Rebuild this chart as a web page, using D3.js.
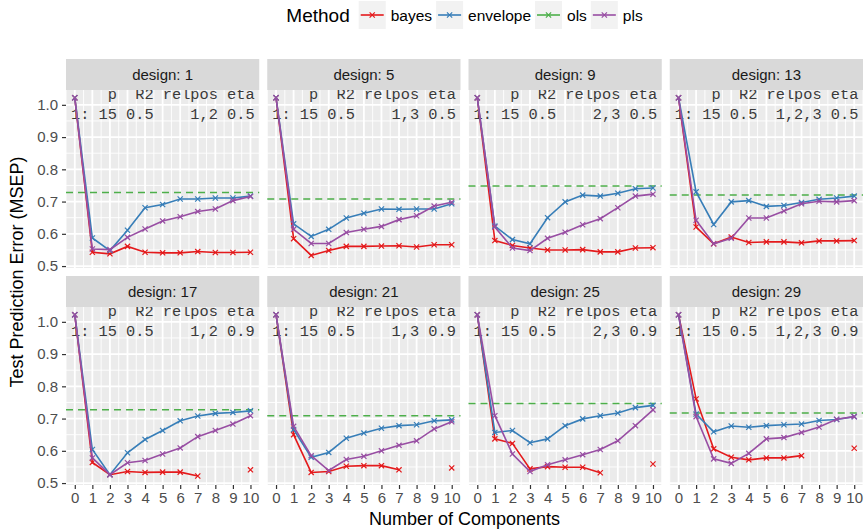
<!DOCTYPE html>
<html>
<head>
<meta charset="utf-8">
<script src="https://d3js.org/d3.v7.min.js"></script>
<style>
body { margin: 0; background: #fff; }
text { font-family: "Liberation Sans", Arial, Helvetica, sans-serif; }
</style>
</head>
<body>
<svg id="chart" width="864" height="530"></svg>
<script>
// design facets and their settings
const designs = [1, 5, 9, 13, 17, 21, 25, 29];
const relpos  = ["1,2", "1,3", "2,3", "1,2,3", "1,2", "1,3", "2,3", "1,2,3"];
const eta     = ["0.5", "0.5", "0.5", "0.5", "0.9", "0.9", "0.9", "0.9"];
const pVal = "15", r2Val = "0.5";

const components = [0, 1, 2, 3, 4, 5, 6, 7, 8, 9, 10];
const methods = ["bayes", "envelope", "ols", "pls"];
const colors  = ["#E41A1C", "#377EB8", "#4DAF4A", "#984EA3"];

// ols is a flat reference line per design
const ols = [0.728, 0.708, 0.748, 0.720, 0.727, 0.709, 0.747, 0.717];

// MSEP by number of components (null = not computed)
const bayes = [
  [1.022, 0.543, 0.538, 0.561, 0.543, 0.541, 0.541, 0.545, 0.542, 0.542, 0.543],
  [1.022, 0.585, 0.533, 0.548, 0.561, 0.561, 0.562, 0.563, 0.559, 0.566, 0.566],
  [1.022, 0.579, 0.564, 0.556, 0.550, 0.550, 0.551, 0.544, 0.544, 0.556, 0.557],
  [1.022, 0.621, 0.569, 0.590, 0.573, 0.575, 0.575, 0.572, 0.578, 0.578, 0.579],
  [1.022, 0.564, 0.526, 0.536, 0.533, 0.534, 0.534, 0.522, null, null, 0.541],
  [1.022, 0.650, 0.533, 0.536, 0.552, 0.554, 0.554, 0.541, null, null, 0.547],
  [1.022, 0.637, 0.623, 0.544, 0.551, 0.549, 0.549, 0.532, null, null, 0.559],
  [1.022, 0.761, 0.606, 0.580, 0.572, 0.578, 0.578, 0.585, null, null, 0.608]
];
const envelope = [
  [1.022, 0.587, 0.548, 0.611, 0.681, 0.691, 0.708, 0.708, 0.711, 0.711, 0.717],
  [1.022, 0.631, 0.592, 0.614, 0.649, 0.664, 0.677, 0.676, 0.677, 0.677, 0.693],
  [1.022, 0.624, 0.582, 0.569, 0.650, 0.699, 0.720, 0.717, 0.726, 0.740, 0.742],
  [1.022, 0.730, 0.629, 0.699, 0.703, 0.685, 0.688, 0.697, 0.707, 0.711, 0.717],
  [1.022, 0.604, 0.526, 0.594, 0.635, 0.663, 0.693, 0.708, 0.716, 0.719, 0.724],
  [1.022, 0.666, 0.580, 0.595, 0.639, 0.655, 0.670, 0.678, 0.681, 0.693, 0.696],
  [1.022, 0.657, 0.663, 0.625, 0.637, 0.678, 0.699, 0.709, 0.717, 0.734, 0.741],
  [1.022, 0.714, 0.659, 0.677, 0.673, 0.678, 0.681, 0.683, 0.694, 0.697, 0.706]
];
const pls = [
  [1.022, 0.553, 0.551, 0.589, 0.615, 0.640, 0.653, 0.669, 0.677, 0.703, 0.716],
  [1.022, 0.614, 0.570, 0.570, 0.604, 0.614, 0.623, 0.644, 0.656, 0.686, 0.698],
  [1.022, 0.621, 0.556, 0.548, 0.586, 0.605, 0.628, 0.647, 0.681, 0.717, 0.723],
  [1.022, 0.642, 0.569, 0.586, 0.649, 0.649, 0.671, 0.693, 0.701, 0.699, 0.703],
  [1.022, 0.578, 0.526, 0.563, 0.570, 0.590, 0.609, 0.644, 0.663, 0.683, 0.709],
  [1.022, 0.676, 0.585, 0.539, 0.573, 0.583, 0.600, 0.617, 0.631, 0.668, 0.690],
  [1.022, 0.709, 0.590, 0.536, 0.557, 0.572, 0.588, 0.604, 0.631, 0.678, 0.727],
  [1.022, 0.706, 0.575, 0.561, 0.592, 0.637, 0.641, 0.657, 0.674, 0.698, 0.706]
];
const yTicks = [0.5, 0.6, 0.7, 0.8, 0.9, 1.0];

const svg = d3.select("#chart");

// layout
const left = 66, right = 863, gap = 8;
const pw = (right - left - 3 * gap) / 4;
const stripTop = 59, stripH = 31, ph = 178, rowGap = 8;

const x = d3.scaleLinear().domain([-0.5, 10.5]).range([0, pw]);
const y = d3.scaleLinear().domain([0.494, 1.046]).range([ph, 0]);

const line = d3.line()
  .defined(d => d != null)
  .x((d, i) => x(components[i]))
  .y(d => y(d));

const cross = (g, cx, cy, col) => {
  const s = 2.6;
  g.append("path")
    .attr("d", `M${cx - s},${cy - s}L${cx + s},${cy + s}M${cx - s},${cy + s}L${cx + s},${cy - s}`)
    .attr("stroke", col).attr("stroke-width", 1.2).attr("fill", "none");
};

designs.forEach((des, i) => {
  const col = i % 4, row = Math.floor(i / 4);
  const px = left + col * (pw + gap);
  const sy = stripTop + row * (stripH + ph + rowGap);
  const py = sy + stripH;

  // strip
  svg.append("rect").attr("x", px).attr("y", sy).attr("width", pw).attr("height", stripH)
    .attr("fill", "#D9D9D9");
  svg.append("text").attr("x", px + pw / 2).attr("y", sy + stripH / 2 + 5.5)
    .attr("text-anchor", "middle").attr("fill", "#1A1A1A").style("font-size", "15px")
    .text("design: " + des);

  const g = svg.append("g").attr("transform", `translate(${px},${py})`);
  g.append("clipPath").attr("id", "clip" + i)
    .append("rect").attr("width", pw).attr("height", ph);
  g.append("rect").attr("width", pw).attr("height", ph).attr("fill", "#EBEBEB");

  // grid
  const minorY = d3.range(0.45, 1.06, 0.1);
  g.selectAll(".mny").data(minorY).join("line")
    .attr("x1", 0).attr("x2", pw).attr("y1", d => y(d)).attr("y2", d => y(d))
    .attr("stroke", "#fff").attr("stroke-width", 0.9).attr("clip-path", `url(#clip${i})`);
  g.selectAll(".mnx").data(d3.range(-0.5, 11, 1)).join("line")
    .attr("y1", 0).attr("y2", ph).attr("x1", d => x(d)).attr("x2", d => x(d))
    .attr("stroke", "#fff").attr("stroke-width", 0.9);
  g.selectAll(".mjy").data(yTicks).join("line")
    .attr("x1", 0).attr("x2", pw).attr("y1", d => y(d)).attr("y2", d => y(d))
    .attr("stroke", "#fff").attr("stroke-width", 1.8);
  g.selectAll(".mjx").data(components).join("line")
    .attr("y1", 0).attr("y2", ph).attr("x1", d => x(d)).attr("x2", d => x(d))
    .attr("stroke", "#fff").attr("stroke-width", 1.8);

  // design table text
  const tg = g.append("g").attr("clip-path", `url(#clip${i})`);
  const relCol = relpos[i].padStart(6, " ");
  const lines = [
    "    p  R2 relpos eta",
    "1: " + pVal + " " + r2Val + " " + relCol + " " + eta[i]
  ];
  tg.selectAll("text").data(lines).join("text")
    .attr("x", 5).attr("y", (d, k) => 8.5 + k * 20.5)
    .style("font-family", "'Courier New', 'Liberation Mono', monospace")
    .style("font-size", "15.3px").style("white-space", "pre")
    .attr("fill", "#3a3a3a")
    .text(d => d);

  // ols reference
  g.append("line").attr("x1", 0).attr("x2", pw)
    .attr("y1", y(ols[i])).attr("y2", y(ols[i]))
    .attr("stroke", colors[2]).attr("stroke-width", 1.5).attr("stroke-dasharray", "7,5");

  // method lines
  [[bayes[i], colors[0]], [envelope[i], colors[1]], [pls[i], colors[3]]].forEach(([vals, c]) => {
    g.append("path").datum(vals).attr("d", line)
      .attr("fill", "none").attr("stroke", c).attr("stroke-width", 1.6);
    vals.forEach((v, k) => { if (v != null) cross(g, x(components[k]), y(v), c); });
  });

  // y axis on the first column
  if (col === 0) {
    const ax = svg.append("g").attr("transform", `translate(${px},${py})`)
      .call(d3.axisLeft(y).tickValues(yTicks).tickFormat(d3.format(".1f")).tickSize(4).tickPadding(4));
    ax.select(".domain").remove();
    ax.selectAll("line").attr("stroke", "#333").attr("stroke-width", 1.2);
    ax.selectAll("text").attr("fill", "#4D4D4D").style("font-size", "15px")
      .style("font-family", "'Liberation Sans', Arial, sans-serif");
  }
  // x axis on the bottom row
  if (row === 1) {
    const ax = svg.append("g").attr("transform", `translate(${px},${py + ph})`)
      .call(d3.axisBottom(x).tickValues(components).tickFormat(d3.format("d")).tickSize(4).tickPadding(3));
    ax.select(".domain").remove();
    ax.selectAll("line").attr("stroke", "#333").attr("stroke-width", 1.2);
    ax.selectAll("text").attr("fill", "#4D4D4D").style("font-size", "15px")
      .style("font-family", "'Liberation Sans', Arial, sans-serif");
  }
});

// axis titles
const midX = (left + right) / 2;
svg.append("text").attr("x", midX).attr("y", 525).attr("text-anchor", "middle")
  .style("font-size", "18px").attr("fill", "#000").text("Number of Components");
const midY = (stripTop + stripTop + 2 * (stripH + ph) + rowGap) / 2;
svg.append("text").attr("transform", `translate(23,${midY}) rotate(-90)`)
  .attr("text-anchor", "middle").style("font-size", "18px").attr("fill", "#000")
  .text("Test Prediction Error (MSEP)");

// legend
const leg = svg.append("g");
const title = leg.append("text").attr("x", 0).attr("y", 22).style("font-size", "19px")
  .attr("fill", "#000").text("Method");
let cx = title.node().getComputedTextLength() + 9;
methods.forEach((m, k) => {
  leg.append("rect").attr("x", cx).attr("y", 1).attr("width", 27).attr("height", 28).attr("fill", "#F2F2F2");
  leg.append("line").attr("x1", cx + 2).attr("x2", cx + 25).attr("y1", 15).attr("y2", 15)
    .attr("stroke", colors[k]).attr("stroke-width", 1.6);
  cross(leg, cx + 13.5, 15, colors[k]);
  const t = leg.append("text").attr("x", cx + 32).attr("y", 20.5).style("font-size", "15.5px")
    .attr("fill", "#000").text(m);
  cx += 32 + t.node().getComputedTextLength() + 4;
});
leg.attr("transform", `translate(${midX - (cx - 4) / 2},0)`);
</script>
</body>
</html>
